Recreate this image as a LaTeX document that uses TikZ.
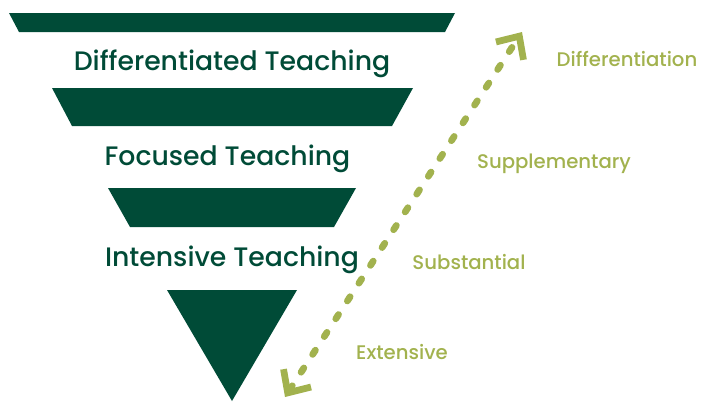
\documentclass[tikz,border=0pt]{standalone}
\usepackage{fontspec}
\setmainfont{Poppins}
\newfontfamily\mediumfont{Poppins Medium}
\usetikzlibrary{arrows.meta}

\definecolor{forest}{HTML}{004B37}
\definecolor{olive}{HTML}{A2B24E}

\tikzset{
  band/.style={fill=forest, draw=none},
  level label/.style={
    font=\mediumfont\fontsize{19}{22}\selectfont, text=forest,
    inner sep=0pt, anchor=base
  },
  scale label/.style={
    font=\mediumfont\fontsize{14}{17}\selectfont, text=olive,
    inner sep=0pt, anchor=base
  },
  chevron/.tip={
    Straight Barb[length=4.4mm, width=8.2mm, line cap=butt, line join=miter]
  },
  scale arrow/.style={
    draw=olive, line width=4.8pt, line cap=round,
    dash pattern=on 3.6pt off 11.5pt, chevron-chevron
  }
}

\begin{document}
\begin{tikzpicture}[x=0.025cm, y=-0.025cm]
  \useasboundingbox (0,0) rectangle (702,401);

  % funnel, widest band at the top
  \fill[band] (9,13) -- (455,13) -- (445,32) -- (19,32) -- cycle;
  \fill[band] (52,88) -- (413,88) -- (392,126) -- (72,126) -- cycle;
  \fill[band] (108,188) -- (356,188) -- (334,227) -- (130,227) -- cycle;
  \fill[band] (167,290) -- (297,290) -- (232,401) -- cycle;

  \node (diff) [level label] at (232,70) {Differentiated Teaching};
  \node (focus) [level label] at (227.5,165) {Focused Teaching};
  \node (intense) [level label] at (232,266) {Intensive Teaching};

  % scale along the right side
  \coordinate (low) at (285,397);
  \coordinate (high) at (522,32);
  \draw [scale arrow] (low) -- (high);

  \node (sdiff) [scale label] at (627,66) {Differentiation};
  \node (ssupp) [scale label] at (554,168) {Supplementary};
  \node (ssubs) [scale label] at (469,269) {Substantial};
  \node (sext) [scale label] at (402,359) {Extensive};
\end{tikzpicture}
\end{document}
